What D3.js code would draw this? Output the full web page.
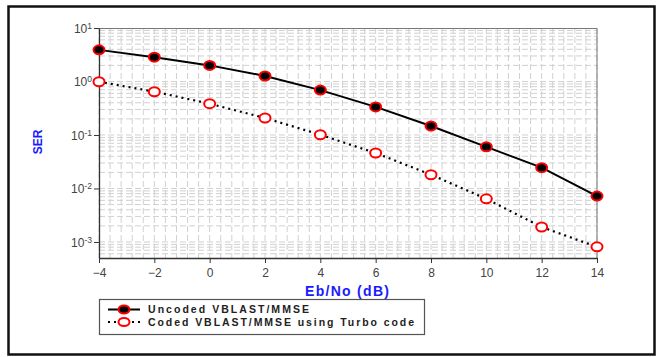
<!DOCTYPE html>
<html>
<head>
<meta charset="utf-8">
<script src="https://cdn.jsdelivr.net/npm/d3@7"></script>
<style>
  body { margin: 0; background: #fff; }
  text { font-family: "Liberation Sans", Arial, sans-serif; }
</style>
</head>
<body>
<div id="chart"></div>
<script>
// data
var ebno = [-4, -2, 0, 2, 4, 6, 8, 10, 12, 14]
var uncoded = [3.9, 2.85, 2.0, 1.27, 0.69, 0.335, 0.147, 0.06, 0.0245, 0.0072]
var coded = [0.99, 0.645, 0.385, 0.208, 0.101, 0.046, 0.0181, 0.0064, 0.0019, 0.00081]
var xTicks = [-4, -2, 0, 2, 4, 6, 8, 10, 12, 14]
var yExps = [1, 0, -1, -2, -3]
var seriesNames = ["Uncoded VBLAST/MMSE", "Coded VBLAST/MMSE using Turbo code"]

var W = 660, H = 357
var margin = {top: 28, left: 99},
  width = 597 - 99,
  height = 258 - 28

var svg = d3.select("#chart").append("svg")
  .attr("width", W)
  .attr("height", H)

// outer frame
svg.append("rect")
  .attr("x", 8.5).attr("y", 6.5)
  .attr("width", 646).attr("height", 348)
  .attr("fill", "none").attr("stroke", "#111").attr("stroke-width", 2.5)

var g = svg.append("g")
  .attr("transform", "translate(" + margin.left + "," + margin.top + ")")

var x = d3.scaleLinear().domain([-4, 14]).range([0, width])
var y = d3.scaleLog().domain([Math.pow(10, -3.3), 10]).range([height, 0])

// grid: vertical minor lines every 0.4 dB
var vgrid = d3.range(-4, 14.001, 0.4)
g.append("g").selectAll("line").data(vgrid).join("line")
  .attr("x1", function(d) { return x(d) }).attr("x2", function(d) { return x(d) })
  .attr("y1", 0).attr("y2", height)
  .attr("stroke", "#d0d0d0").attr("stroke-width", 1)
  .attr("stroke-dasharray", "6,3")

// grid: horizontal log minor lines
var hgrid = []
for (var e = -4; e <= 0; e++) {
  for (var k = 1; k <= 9; k++) {
    var v = k * Math.pow(10, e)
    if (v >= Math.pow(10, -3.3) && v <= 10) hgrid.push(v)
  }
}
g.append("g").selectAll("line").data(hgrid).join("line")
  .attr("x1", 0).attr("x2", width)
  .attr("y1", function(d) { return y(d) }).attr("y2", function(d) { return y(d) })
  .attr("stroke", "#d0d0d0").attr("stroke-width", 1)
  .attr("stroke-dasharray", "6,3")

// top/right border
g.append("path")
  .attr("d", "M0,0.5H" + width + "V" + height)
  .attr("fill", "none").attr("stroke", "#777").attr("stroke-width", 1)

// x axis
var xAxis = g.append("g")
  .attr("transform", "translate(0," + height + ")")
  .call(d3.axisBottom(x).tickValues(xTicks).tickSize(5).tickSizeOuter(0).tickPadding(5))
xAxis.select(".domain").attr("stroke", "#333").attr("stroke-width", 1.3)
xAxis.selectAll(".tick line").attr("stroke", "#333")
xAxis.selectAll("text").attr("font-size", 12).attr("fill", "#444")

// y axis
var yAxis = g.append("g")
  .call(d3.axisLeft(y).tickValues(yExps.map(function(e) { return Math.pow(10, e) }))
    .tickSize(5).tickSizeOuter(0).tickPadding(6).tickFormat(""))
yAxis.select(".domain").attr("stroke", "#333").attr("stroke-width", 1.3)
yAxis.selectAll(".tick line").attr("stroke", "#333")
yAxis.selectAll(".tick").each(function(d) {
  var t = d3.select(this).append("text")
    .attr("x", -7).attr("dy", "0.35em")
    .attr("text-anchor", "end").attr("font-size", 12).attr("fill", "#444")
  t.append("tspan").text("10")
  t.append("tspan").attr("dy", "-0.45em").attr("font-size", 8.5)
    .text(Math.round(Math.log10(d)))
})

// lines
var line = d3.line()
  .x(function(d, i) { return x(ebno[i]) })
  .y(function(d) { return y(d) })

g.append("path").datum(uncoded)
  .attr("d", line).attr("fill", "none")
  .attr("stroke", "#000").attr("stroke-width", 2)
g.append("path").datum(coded)
  .attr("d", line).attr("fill", "none")
  .attr("stroke", "#000").attr("stroke-width", 2.2)
  .attr("stroke-dasharray", "2,4")

// markers
g.append("g").selectAll("ellipse").data(uncoded).join("ellipse")
  .attr("cx", function(d, i) { return x(ebno[i]) })
  .attr("cy", function(d) { return y(d) })
  .attr("rx", 5.5).attr("ry", 4.5)
  .attr("fill", "#000").attr("stroke", "#f00").attr("stroke-width", 2)
g.append("g").selectAll("ellipse").data(coded).join("ellipse")
  .attr("cx", function(d, i) { return x(ebno[i]) })
  .attr("cy", function(d) { return y(d) })
  .attr("rx", 5.5).attr("ry", 4.5)
  .attr("fill", "#fff").attr("stroke", "#f00").attr("stroke-width", 2)

// axis titles
svg.append("text")
  .attr("x", 305).attr("y", 296)
  .attr("font-size", 14).attr("font-weight", "bold")
  .attr("textLength", 84).attr("lengthAdjust", "spacing")
  .attr("fill", "#1a1aff").text("Eb/No (dB)")
svg.append("text")
  .attr("transform", "translate(42,142) rotate(-90)")
  .attr("text-anchor", "middle").attr("font-size", 12).attr("font-weight", "bold")
  .attr("fill", "#1a1aff").text("SER")

// legend
var lg = svg.append("g").attr("transform", "translate(99,299)")
lg.append("rect")
  .attr("x", 0.5).attr("y", 0.5).attr("width", 325).attr("height", 35)
  .attr("fill", "#fff").attr("stroke", "#555").attr("stroke-width", 1.2)
var legendLen = [161, 266]
seriesNames.forEach(function(name, i) {
  var yy = 10.5 + i * 12.5
  lg.append("line")
    .attr("x1", 9).attr("x2", 41).attr("y1", yy).attr("y2", yy)
    .attr("stroke", "#000").attr("stroke-width", 2)
    .attr("stroke-dasharray", i === 0 ? null : "2,4")
  lg.append("ellipse")
    .attr("cx", 25).attr("cy", yy).attr("rx", 5.5).attr("ry", 4)
    .attr("fill", i === 0 ? "#000" : "#fff").attr("stroke", "#f00").attr("stroke-width", 2)
  lg.append("text")
    .attr("x", 49).attr("y", yy).attr("dy", "0.35em")
    .attr("font-size", 10.5).attr("font-weight", "bold").attr("fill", "#222")
    .attr("textLength", legendLen[i]).attr("lengthAdjust", "spacing")
    .text(name)
})
</script>
</body>
</html>
